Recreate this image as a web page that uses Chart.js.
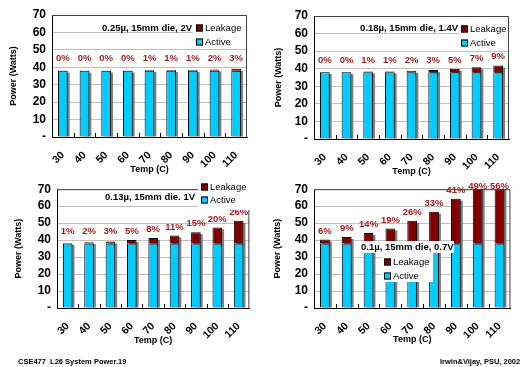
<!DOCTYPE html>
<html>
<head>
<meta charset="utf-8">
<script src="https://cdn.jsdelivr.net/npm/chart.js@4.4.1/dist/chart.umd.min.js"></script>
<style>
  body { margin: 0; background: #fff; width: 521px; height: 367px; overflow: hidden; position: relative; font-family: "Liberation Sans", Arial, sans-serif; }
  canvas { position: absolute; }
  .foot { position: absolute; font-weight: bold; font-size: 7.5px; white-space: nowrap; }
</style>
</head>
<body>
<canvas id="c1" width="260" height="178" style="left:0;top:0"></canvas>
<canvas id="c2" width="261" height="178" style="left:260px;top:0"></canvas>
<canvas id="c3" width="260" height="174" style="left:0;top:176px"></canvas>
<canvas id="c4" width="261" height="174" style="left:260px;top:176px"></canvas>
<div class="foot" style="left:18px;top:357px">CSE477&nbsp; L26 System Power.19</div>
<div class="foot" style="left:440px;top:357px">Irwin&amp;Vijay, PSU, 2002</div>
<script>
// Temperature categories (C)
const temps = ['30', '40', '50', '60', '70', '80', '90', '100', '110'];
const yTicks = [0, 10, 20, 30, 40, 50, 60, 70];

// 0.25u, 15mm die, 2V
const active1 = [38, 38, 38, 38, 38, 38, 38, 38, 38];
const leak1 = [0.1, 0.1, 0.1, 0.1, 0.4, 0.4, 0.4, 0.8, 1.2];
const pct1 = ['0%', '0%', '0%', '0%', '1%', '1%', '1%', '2%', '3%'];

// 0.18u, 15mm die, 1.4V
const active2 = [38, 38, 38, 38, 38, 38, 38, 38, 38];
const leak2 = [0.1, 0.1, 0.4, 0.4, 0.8, 1.2, 2.0, 2.9, 3.8];
const pct2 = ['0%', '0%', '1%', '1%', '2%', '3%', '5%', '7%', '9%'];

// 0.13u, 15mm die, 1V
const active3 = [38, 38, 38, 38, 38, 38, 38, 38, 38];
const leak3 = [0.4, 0.8, 1.2, 2.0, 3.3, 4.7, 6.7, 9.5, 13.4];
const pct3 = ['1%', '2%', '3%', '5%', '8%', '11%', '15%', '20%', '26%'];

// 0.1u, 15mm die, 0.7V
const active4 = [38, 38, 38, 38, 38, 38, 38, 38, 38];
const leak4 = [2.4, 3.8, 6.2, 8.9, 13.4, 18.7, 26.4, 36.5, 48.4];
const pct4 = ['6%', '9%', '14%', '19%', '26%', '33%', '41%', '49%', '56%'];

const FONT = '"Liberation Sans", Arial, sans-serif';
const ACTIVE = '#00ccff';
const LEAK = '#800000';
Chart.defaults.color = '#000';
Chart.defaults.font.family = FONT;

// shadows, frame, inner ticks, percent labels, title and legend boxes
const decor = {
  id: 'decor',
  beforeDatasetsDraw(chart) {
    const ctx = chart.ctx, a = chart.chartArea;
    const base = chart.getDatasetMeta(0).data, top = chart.getDatasetMeta(1).data;
    ctx.save();
    ctx.beginPath();
    ctx.rect(a.left, a.top, a.width + 4, a.height);
    ctx.clip();
    ctx.fillStyle = '#808080';
    top.forEach((bar, i) => {
      const y = Math.min(bar.y, base[i].y);
      ctx.fillRect(bar.x - bar.width / 2 + 2, y + 2, bar.width, base[i].base - y - 2);
    });
    ctx.restore();
  },
  afterDatasetsDraw(chart, args, o) {
    const ctx = chart.ctx, a = chart.chartArea, ys = chart.scales.y;
    const act = chart.data.datasets[0].data, lk = chart.data.datasets[1].data;
    const n = chart.data.labels.length;
    ctx.save();
    // plot frame (top and right)
    ctx.strokeStyle = '#404040';
    ctx.lineWidth = 1;
    ctx.beginPath();
    ctx.moveTo(a.left, a.top + 0.5);
    ctx.lineTo(a.right - 0.5, a.top + 0.5);
    ctx.lineTo(a.right - 0.5, a.bottom);
    ctx.stroke();
    // inner tick marks between categories
    ctx.strokeStyle = '#000';
    ctx.beginPath();
    for (let i = 1; i < n; i++) {
      const x = Math.round(a.left + i * a.width / n) + 0.5;
      ctx.moveTo(x, a.bottom);
      ctx.lineTo(x, a.bottom - 4);
    }
    ctx.stroke();
    // percent labels
    ctx.font = 'bold 9.5px ' + FONT;
    ctx.fillStyle = '#9b1b1b';
    ctx.textAlign = 'center';
    ctx.textBaseline = 'middle';
    chart.getDatasetMeta(1).data.forEach((bar, i) => {
      const py = Math.max(ys.getPixelForValue(Math.max(act[i] + lk[i], 40) + 5), a.top - 3);
      ctx.fillText(o.pct[i], bar.x, py);
    });
    // white boxes
    ctx.fillStyle = '#fff';
    o.boxes.forEach(b => ctx.fillRect(b[0], b[1], b[2], b[3]));
    // title
    ctx.fillStyle = '#000';
    ctx.font = 'bold 9.5px ' + FONT;
    ctx.textAlign = o.title.align;
    ctx.fillText(o.title.text, o.title.x, o.title.y);
    // legend
    ctx.font = '9.5px ' + FONT;
    ctx.textAlign = 'left';
    [['Leakage', LEAK], ['Active', ACTIVE]].forEach((it, k) => {
      const ly = o.legend.y + k * o.legend.gap;
      ctx.fillStyle = it[1];
      ctx.fillRect(o.legend.x, ly - 3.5, 7, 7);
      ctx.strokeStyle = '#000';
      ctx.strokeRect(o.legend.x + 0.5, ly - 3, 6, 6);
      ctx.fillStyle = '#000';
      ctx.fillText(it[0], o.legend.x + 9, ly);
    });
    ctx.restore();
  }
};

function makeChart(id, active, leak, pct, cfg) {
  new Chart(document.getElementById(id), {
    type: 'bar',
    data: {
      labels: temps,
      datasets: [
        { label: 'Active', data: active, backgroundColor: ACTIVE, borderColor: '#000', borderWidth: 1, borderSkipped: 'bottom' },
        { label: 'Leakage', data: leak, backgroundColor: LEAK, borderColor: '#000', borderWidth: 1, borderSkipped: 'bottom' }
      ]
    },
    options: {
      responsive: false,
      animation: false,
      categoryPercentage: 1,
      barPercentage: 0.45,
      layout: { padding: cfg.pad },
      plugins: {
        legend: { display: false },
        tooltip: { enabled: false },
        decor: { pct: pct, boxes: cfg.boxes, title: cfg.title, legend: cfg.legend }
      },
      scales: {
        x: {
          stacked: true,
          afterFit: s => { s.height = cfg.xh; },
          grid: { drawOnChartArea: false, drawTicks: false },
          border: { color: '#000', width: 1 },
          ticks: { autoSkip: false, minRotation: 45, maxRotation: 45, padding: 12, font: { weight: 'bold', size: 10.5 } },
          title: { display: true, text: 'Temp (C)', font: { weight: 'bold', size: 9 }, padding: { top: 0, bottom: cfg.xtp } }
        },
        y: {
          stacked: true,
          min: 0,
          max: 70,
          afterFit: s => { s.width = cfg.yw; },
          afterBuildTicks: s => { s.ticks = yTicks.map(v => ({ value: v })); },
          grid: { color: '#c0c0c0', drawTicks: false },
          border: { color: '#000', width: 1 },
          ticks: { autoSkip: false, padding: 6, font: { weight: 'bold', size: 12 }, callback: v => v === 0 ? '-' : v },
          title: { display: true, text: 'Power (Watts)', font: { weight: 'bold', size: 9 }, padding: { top: cfg.ytp, bottom: 0 } }
        }
      }
    },
    plugins: [decor]
  });
}

makeChart('c1', active1, leak1, pct1, {
  pad: { top: 15, right: 13, left: 0, bottom: 0 }, xh: 41, yw: 52, xtp: 3, ytp: 8,
  boxes: [[193, 21, 53, 27]],
  title: { text: '0.25\u00b5, 15mm die, 2V', x: 192, y: 28, align: 'right' },
  legend: { x: 196, y: 28, gap: 14 }
});
makeChart('c2', active2, leak2, pct2, {
  pad: { top: 16, right: 12, left: 0, bottom: 0 }, xh: 39, yw: 54, xtp: 1, ytp: 13,
  boxes: [[199, 21, 49, 27]],
  title: { text: '0.18\u00b5, 15mm die, 1.4V', x: 198, y: 28, align: 'right' },
  legend: { x: 201, y: 29, gap: 14 }
});
makeChart('c3', active3, leak3, pct3, {
  pad: { top: 7, right: 8, left: 0, bottom: 0 }, xh: 42, yw: 57, xtp: 4, ytp: 13,
  boxes: [[198, 5, 53, 29]],
  title: { text: '0.13\u00b5, 15mm die. 1V', x: 195, y: 21, align: 'right' },
  legend: { x: 201, y: 11, gap: 13 }
});
makeChart('c4', active4, leak4, pct4, {
  pad: { top: 6, right: 10, left: 0, bottom: 0 }, xh: 42, yw: 54, xtp: 5, ytp: 12,
  boxes: [[99, 65, 95, 12], [122, 77, 51, 29]],
  title: { text: '0.1\u00b5, 15mm die, 0.7V', x: 101, y: 71, align: 'left' },
  legend: { x: 124, y: 86, gap: 14 }
});
</script>
</body>
</html>
